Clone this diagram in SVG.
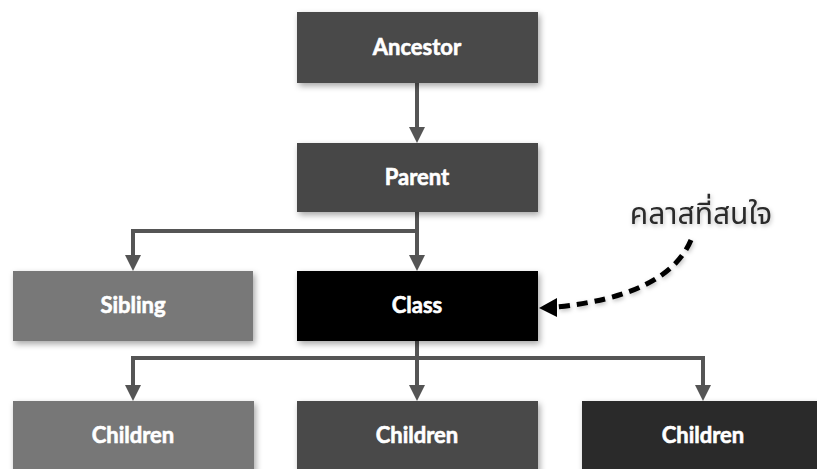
<svg xmlns="http://www.w3.org/2000/svg" width="817" height="469" viewBox="0 0 817 469">
<style>
.lbl{font-family:Lato,"Liberation Sans",sans-serif;font-weight:bold;font-size:22px;fill:#fff;stroke:#fff;stroke-width:0.6;text-anchor:middle}
.con{fill:none;stroke:#555;stroke-width:4}
.box{filter:url(#sh)}
</style>
<defs>
<filter id="sh" x="-10%" y="-20%" width="130%" height="150%">
<feDropShadow dx="2" dy="3" stdDeviation="3" flood-color="#000" flood-opacity="0.35"/>
</filter>
<filter id="tsh" x="-10%" y="-30%" width="130%" height="170%">
<feDropShadow dx="1" dy="2" stdDeviation="2" flood-color="#000" flood-opacity="0.25"/>
</filter>
</defs>
<g id="connectors">
<path class="con" d="M417 83 V127"/>
<path d="M409 127 L425 127 L417 143 Z" fill="#555"/>
<path class="con" d="M417 212 V255"/>
<path d="M409 255 L425 255 L417 271 Z" fill="#555"/>
<path class="con" d="M417 231 H133 V255"/>
<path d="M125 255 L141 255 L133 271 Z" fill="#555"/>
<path class="con" d="M417 341 V385"/>
<path class="con" d="M133 385 V358 H703 V385"/>
<path d="M125 385 L141 385 L133 401 Z" fill="#555"/>
<path d="M409 385 L425 385 L417 401 Z" fill="#555"/>
<path d="M695 385 L711 385 L703 401 Z" fill="#555"/>
<path d="M691 240 C675 278 628 300 556 307" fill="none" stroke="#000" stroke-width="5" stroke-dasharray="11 7" filter="url(#tsh)"/>
<path d="M539 308 L557 298 L557 317 Z" fill="#000"/>
</g>
<g id="ancestor"><rect class="box" x="297" y="12" width="241" height="71" fill="#4a4a4a"/><text class="lbl" x="417" y="55">Ancestor</text></g>
<g id="parent"><rect class="box" x="297" y="143" width="241" height="69" fill="#474747"/><text class="lbl" x="417" y="185">Parent</text></g>
<g id="sibling"><rect class="box" x="13" y="271" width="240" height="70" fill="#787878"/><text class="lbl" x="133" y="313">Sibling</text></g>
<g id="class"><rect class="box" x="297" y="271" width="241" height="70" fill="#000"/><text class="lbl" x="417" y="313">Class</text></g>
<g id="children1"><rect class="box" x="13" y="401" width="241" height="80" fill="#777"/><text class="lbl" x="133" y="443">Children</text></g>
<g id="children2"><rect class="box" x="297" y="401" width="241" height="80" fill="#4a4a4a"/><text class="lbl" x="417" y="443">Children</text></g>
<g id="children3"><rect class="box" x="582" y="401" width="241" height="80" fill="#2a2a2a"/><text class="lbl" x="703" y="443">Children</text></g>
<g id="note"><text x="701" y="224" font-family="'Noto Sans','Noto Sans Thai','DejaVu Sans',sans-serif" font-size="30" fill="#2a2a2a" text-anchor="middle" filter="url(#tsh)">คลาสที่สนใจ</text></g>
</svg>
